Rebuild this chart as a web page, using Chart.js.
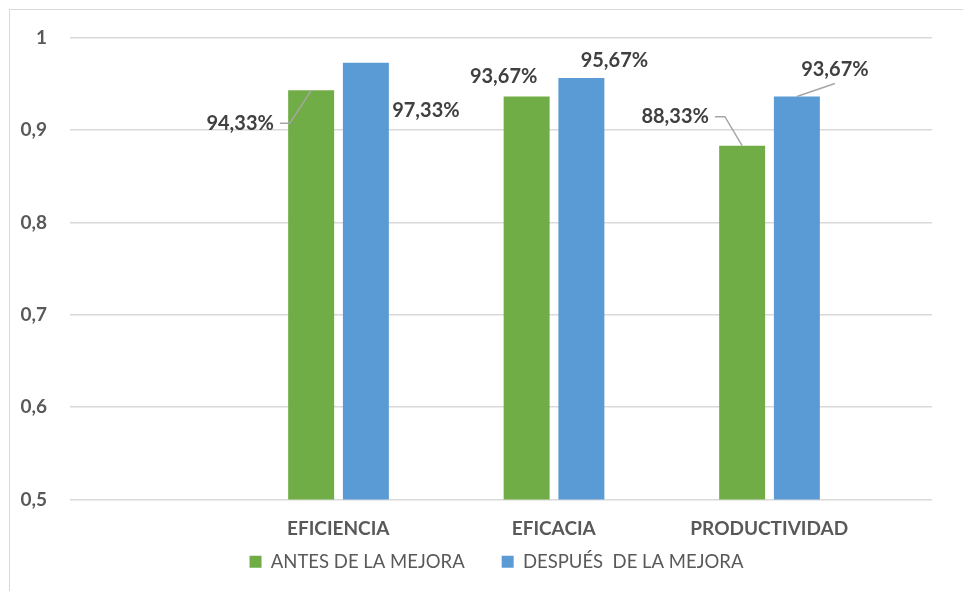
<!DOCTYPE html>
<html>
<head>
<meta charset="utf-8">
<script src="https://cdn.jsdelivr.net/npm/chart.js@4.4.1/dist/chart.umd.min.js"></script>
<style>
  html, body { margin: 0; padding: 0; background: #fff; overflow: hidden; }
  #frame {
    position: absolute; left: 9px; top: 9px;
    width: 1000px; height: 700px;
    border: 1px solid #d9d9d9;
  }
</style>
</head>
<body>
<div id="frame">
  <canvas id="chart" width="973" height="597"></canvas>
</div>
<script>
// Datos del gráfico
const categorias = ['', 'EFICIENCIA', 'EFICACIA', 'PRODUCTIVIDAD'];
const antesMejora = [null, 0.9433, 0.9367, 0.8833];
const despuesMejora = [null, 0.9733, 0.9567, 0.9367];
const ticksY = [0.5, 0.6, 0.7, 0.8, 0.9, 1];

// Posición de las etiquetas respecto a la parte superior de cada barra [dx, dy, guía]
const posAntes = [null, [-71, 33, 'left'], [-23, -20, null], [-67, -29, 'left']];
const posDespues = [null, [60, 48, null], [33, -17, null], [38, -27, 'below']];

const VERDE = '#70ad47';
const AZUL = '#5b9bd5';
const FUENTE = 'Lato, "Open Sans", sans-serif';

function formatoPct(v) {
  return (v * 100).toFixed(2).replace('.', ',') + '%';
}

// Plugin para dibujar las etiquetas de datos con líneas guía
const etiquetasDatos = {
  id: 'etiquetasDatos',
  afterDatasetsDraw(chart) {
    const ctx = chart.ctx;
    const posiciones = [posAntes, posDespues];
    ctx.save();
    ctx.font = 'bold 20px ' + FUENTE;
    ctx.textAlign = 'center';
    ctx.textBaseline = 'middle';
    [0, 1].forEach(di => {
      const meta = chart.getDatasetMeta(di);
      const datos = chart.data.datasets[di].data;
      meta.data.forEach((bar, i) => {
        if (datos[i] == null) return;
        const p = posiciones[di][i];
        const tx = bar.x + p[0];
        const ty = bar.y + p[1];
        const texto = formatoPct(datos[i]);
        const w = ctx.measureText(texto).width;
        if (p[2]) {
          ctx.strokeStyle = '#a6a6a6';
          ctx.lineWidth = 1.5;
          ctx.beginPath();
          if (p[2] === 'left') {
            const xr = tx + w / 2;
            ctx.moveTo(xr + 6, ty);
            ctx.lineTo(xr + 16, ty);
            ctx.lineTo(bar.x, bar.y);
          } else {
            ctx.moveTo(bar.x, bar.y);
            ctx.lineTo(tx, ty + 14);
          }
          ctx.stroke();
        }
        ctx.fillStyle = '#404040';
        ctx.fillText(texto, tx, ty);
      });
    });
    ctx.restore();
  }
};

// Sube la leyenda para dejarla justo debajo de las categorías
const subirLeyenda = {
  id: 'subirLeyenda',
  afterLayout(chart) {
    if (!chart.legend) return;
    chart.legend.top -= 26;
    chart.legend.bottom -= 26;
  }
};

const ctx = document.getElementById('chart');

new Chart(ctx, {
  type: 'bar',
  data: {
    labels: categorias,
    datasets: [
      {
        label: 'ANTES DE LA MEJORA',
        data: antesMejora,
        backgroundColor: VERDE
      },
      {
        label: 'DESPUÉS  DE LA MEJORA',
        data: despuesMejora,
        backgroundColor: AZUL
      },
      // series vacías para dejar espacio a la derecha de cada grupo
      { label: '', data: categorias.map(() => null) },
      { label: '', data: categorias.map(() => null) }
    ]
  },
  options: {
    responsive: false,
    animation: false,
    datasets: {
      bar: {
        categoryPercentage: 1.016,
        barPercentage: 0.84
      }
    },
    layout: {
      padding: { left: 0, right: 0, top: 28, bottom: 0 }
    },
    scales: {
      x: {
        grid: { display: false, drawTicks: false },
        border: { display: false },
        ticks: {
          labelOffset: -55,
          padding: 18,
          color: '#595959',
          font: { family: FUENTE, size: 19, weight: 'bold' }
        },
        afterFit(scale) { scale.height = 42; }
      },
      y: {
        min: 0.5,
        max: 1,
        afterBuildTicks(scale) {
          scale.ticks = ticksY.map(v => ({ value: v }));
        },
        grid: { color: '#d9d9d9', lineWidth: 1.6, drawTicks: false },
        border: { display: false },
        ticks: {
          padding: 23,
          color: '#595959',
          font: { family: FUENTE, size: 19, weight: 'bold', lineHeight: 0.5 },
          callback: v => (v === 1 ? '1' : v.toFixed(1).replace('.', ','))
        },
        afterFit(scale) { scale.width = 60; }
      },
      // eje vacío a la derecha: reserva el margen derecho del área de trazado
      margen: {
        position: 'right',
        grid: { display: false, drawTicks: false },
        border: { display: false },
        ticks: { display: false },
        afterFit(scale) { scale.width = 51; }
      }
    },
    plugins: {
      legend: {
        position: 'bottom',
        labels: {
          boxWidth: 12,
          boxHeight: 12,
          padding: 37,
          color: '#595959',
          font: { family: FUENTE, size: 18.5 },
          filter: item => item.text !== ''
        }
      },
      tooltip: { enabled: false }
    }
  },
  plugins: [etiquetasDatos, subirLeyenda]
});
</script>
</body>
</html>
